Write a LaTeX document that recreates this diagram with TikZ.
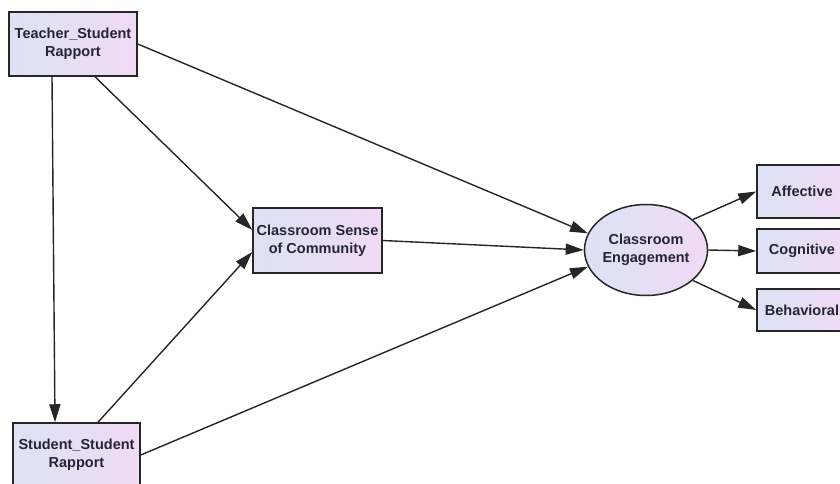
\documentclass[tikz,border=0pt]{standalone}
\usepackage{fontspec}
\setmainfont{Liberation Sans}
\usetikzlibrary{arrows.meta,shapes.geometric,calc}
\definecolor{lineC}{HTML}{262626}
\definecolor{txtC}{HTML}{25253A}
\definecolor{fillL}{HTML}{DCE2F4}
\definecolor{fillR}{HTML}{F0DAF6}
\tikzset{
  box/.style={draw=lineC, line width=1.5pt, left color=fillL, right color=fillR,
    text=txtC, font=\fontsize{14.5}{18}\selectfont\bfseries, align=center, inner sep=0pt},
  latent/.style={box, ellipse},
  conn/.style={draw=lineC, line width=1.4pt, -{Triangle[length=18pt,width=11pt]}}
}
\begin{document}
\begin{tikzpicture}[x=1pt,y=1pt]
\useasboundingbox (0,0) rectangle (840,-484);
\clip (0,0) rectangle (840,-484);
\fill[white] (0,0) rectangle (840,-484);
\node[box, minimum width=128, minimum height=64] (T) at (73,-44) {Teacher\_Student\\Rapport};
\node[box, minimum width=127, minimum height=64] (SS) at (76.5,-455) {Student\_Student\\Rapport};
\node[box, minimum width=129, minimum height=65] (CS) at (317.5,-240.5) {Classroom Sense\\of Community};
\node[latent, minimum width=123, minimum height=91] (E) at (646,-250) {Classroom\\Engagement};
\node[box, minimum width=90, minimum height=53] (A) at (802,-191.5) {Affective};
\node[box, minimum width=90, minimum height=44] (C) at (802,-251) {Cognitive};
\node[box, minimum width=90, minimum height=42] (B) at (802,-310) {Behavioral};
\draw[conn] ([xshift=-21]T.south) -- ([xshift=-21.5]SS.north);
\draw[conn] ([xshift=22]T.south) -- ([yshift=10.5]CS.west);
\draw[conn] (T.east) -- (E.164);
\draw[conn] ([xshift=21.5]SS.north) -- ([yshift=-11.5]CS.west);
\draw[conn] (SS.east) -- (E.196);
\draw[conn] (CS.east) -- (E.west);
\draw[conn] (E.33) -- (A.west);
\draw[conn] (E.east) -- (C.west);
\draw[conn] (E.-33) -- (B.west);
\end{tikzpicture}
\end{document}
